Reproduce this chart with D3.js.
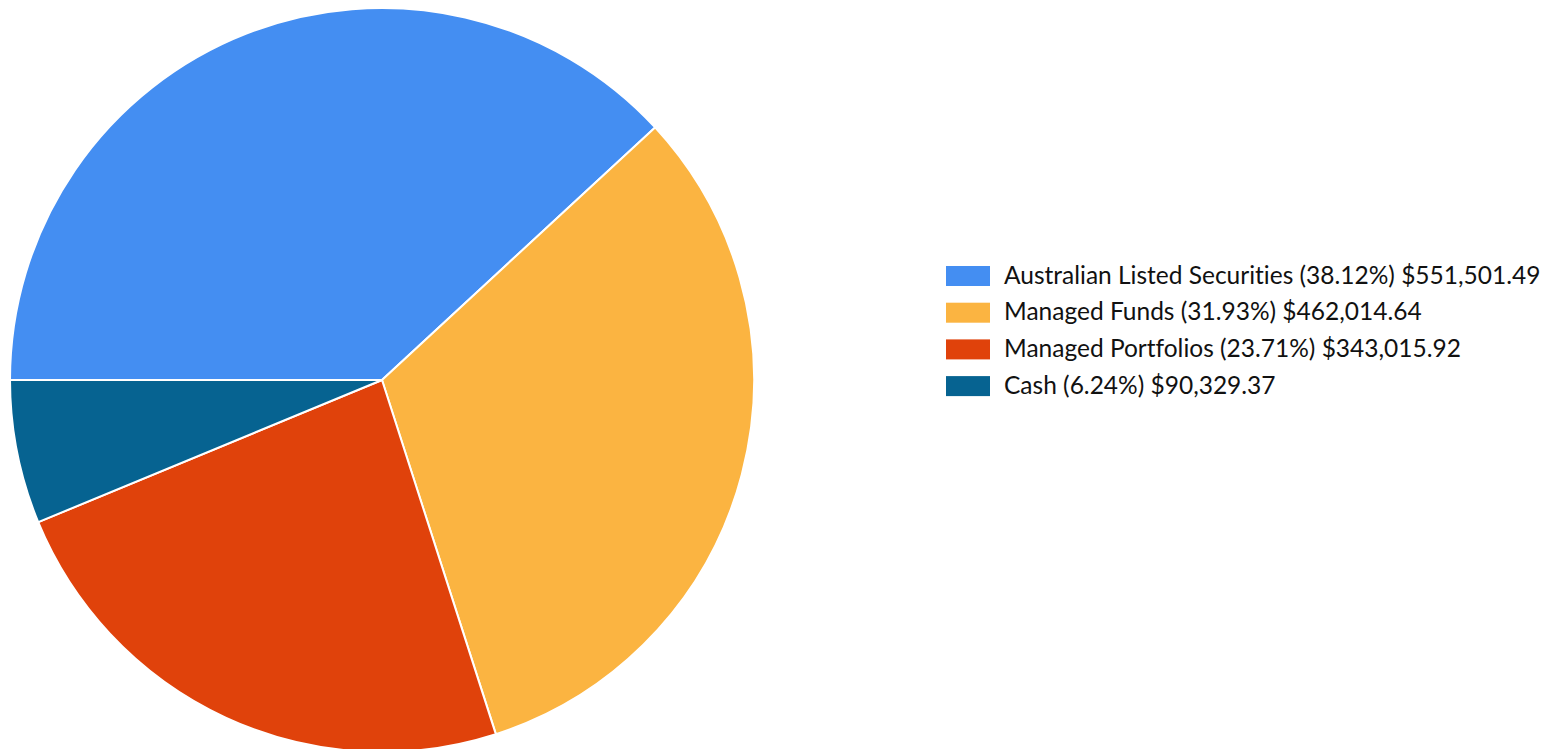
<!DOCTYPE html>
<html><head><meta charset="utf-8">
<script src="https://cdn.jsdelivr.net/npm/d3@7"></script>
<style>html,body{margin:0;padding:0;background:#fff;overflow:hidden}text{font-variant-ligatures:none;font-feature-settings:"liga" 0,"clig" 0}</style>
</head><body>
<script>
const categories = ["Australian Listed Securities", "Managed Funds", "Managed Portfolios", "Cash"];
const percents = [38.12, 31.93, 23.71, 6.24];
const amounts = ["$551,501.49", "$462,014.64", "$343,015.92", "$90,329.37"];
const colors = ["#448EF2", "#FBB441", "#E0420B", "#066391"];

const W = 1562, H = 749;
const svg = d3.select("body").append("svg").attr("width", W).attr("height", H);
const cx = 382, cy = 380, R = 372;

const data = categories.map((c, i) => ({name: c, pct: percents[i], amt: amounts[i], color: colors[i]}));
const pie = d3.pie().value(d => d.pct).sort(null).startAngle(-Math.PI / 2).endAngle(1.5 * Math.PI);
const arc = d3.arc().innerRadius(0).outerRadius(R);

svg.append("g").attr("transform", `translate(${cx},${cy})`)
  .selectAll("path").data(pie(data)).join("path")
  .attr("d", arc).attr("fill", d => d.data.color)
  .attr("stroke", "#fff").attr("stroke-width", 2).attr("stroke-linejoin", "round");

const y = d3.scaleBand().domain(categories).range([266, 266 + 36.7 * 4]).paddingInner(0);
const leg = svg.append("g").selectAll("g").data(data).join("g")
  .attr("transform", d => `translate(946,${y(d.name)})`);
leg.append("rect").attr("width", 44).attr("height", 20).attr("fill", d => d.color);
leg.append("text").attr("x", 58).attr("y", 17.5)
  .attr("font-family", "Lato, sans-serif").attr("font-size", 24.5).attr("fill", "#111")
  .text(d => `${d.name} (${d.pct.toFixed(2)}%) ${d.amt}`);
</script>
</body></html>
